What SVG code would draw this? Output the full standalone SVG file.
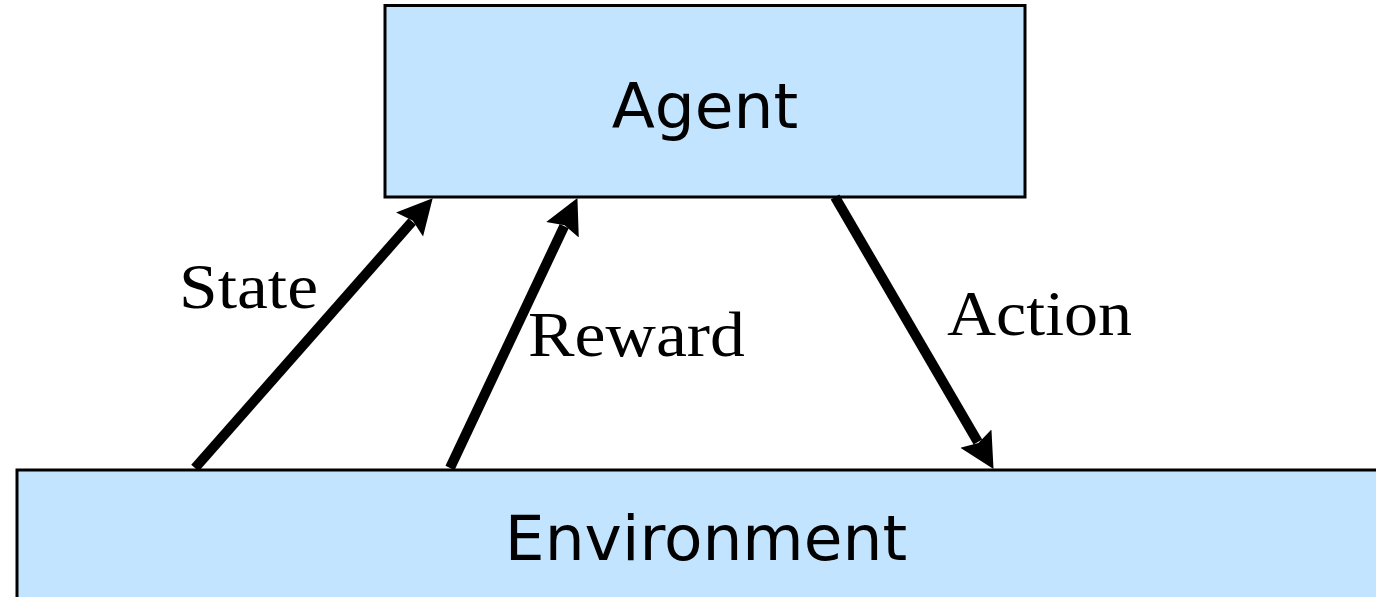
<svg xmlns="http://www.w3.org/2000/svg" width="1376" height="597" viewBox="0 0 1376 597">
  <style>
    .box { fill: #c2e4fe; stroke: #000; stroke-width: 3; }
    .node-label { font-family: "DejaVu Sans", sans-serif; font-size: 63px; fill: #000; text-anchor: middle; }
    .edge { stroke: #000; stroke-width: 10; fill: none; marker-end: url(#head); }
    .edge-label { font-family: "Liberation Serif", serif; font-size: 64px; fill: #000; }
  </style>
  <defs>
    <marker id="head" markerUnits="userSpaceOnUse" markerWidth="40" markerHeight="40" viewBox="0 -20 40 40" refX="4" refY="0" orient="auto">
      <path d="M0,-18 L35,0 L0,18 L5,0 z" fill="#000"/>
    </marker>
  </defs>
  <rect width="1376" height="597" fill="#fff"/>
  <g id="agent">
    <rect class="box" x="385" y="5.5" width="640" height="191.5"/>
    <text class="node-label" x="705" y="128">Agent</text>
  </g>
  <g id="environment">
    <rect class="box" x="17" y="470" width="1400" height="200"/>
    <text class="node-label" x="706" y="560">Environment</text>
  </g>
  <g id="connectors">
    <line class="edge" x1="195" y1="468" x2="412.2" y2="221.5"/>
    <line class="edge" x1="450" y1="468" x2="564.2" y2="226.1"/>
    <line class="edge" x1="835" y1="197" x2="977.9" y2="442.1"/>
  </g>
  <g id="labels">
    <text class="edge-label" x="179" y="308" textLength="139" lengthAdjust="spacingAndGlyphs">State</text>
    <text class="edge-label" x="528" y="356" textLength="217" lengthAdjust="spacingAndGlyphs">Reward</text>
    <text class="edge-label" x="947" y="335" textLength="185" lengthAdjust="spacingAndGlyphs">Action</text>
  </g>
</svg>
